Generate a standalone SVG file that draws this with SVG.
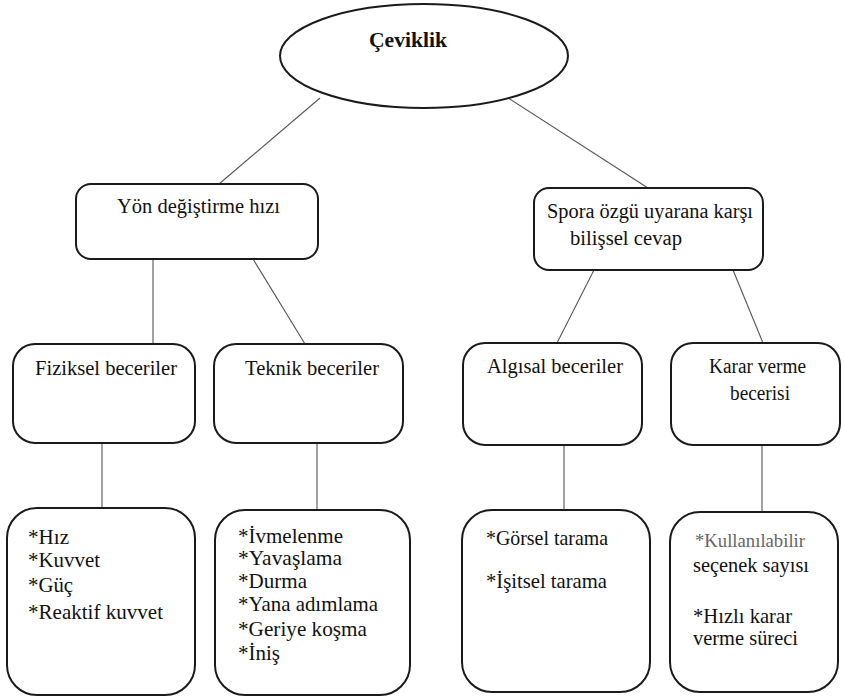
<svg xmlns="http://www.w3.org/2000/svg" width="844" height="698" viewBox="0 0 844 698">
<style>
.node{fill:#fff;stroke:#1a1a1a;stroke-width:2}
text{font-family:"Liberation Serif","DejaVu Serif","Noto Serif",serif}
.h{font-size:20.5px;fill:#111}
.t{font-size:21px;fill:#111}
.s{font-size:18px;fill:#666}
.b{font-size:21px;font-weight:bold;fill:#111}
#connectors line{stroke:#555;stroke-width:1.1}
</style>
<rect width="844" height="698" fill="#fff"/>
<g id="connectors">
<line x1="320" y1="98" x2="219" y2="184"/>
<line x1="505" y1="96" x2="648" y2="188"/>
<line x1="153" y1="259" x2="153" y2="344"/>
<line x1="253" y1="259" x2="305" y2="344"/>
<line x1="594" y1="270" x2="557" y2="343"/>
<line x1="733" y1="270" x2="763" y2="343"/>
<line x1="102" y1="443" x2="102" y2="508"/>
<line x1="317" y1="443" x2="317" y2="510"/>
<line x1="564" y1="445" x2="564" y2="510"/>
<line x1="762" y1="445" x2="762" y2="512"/>
</g>
<g id="ceviklik">
<ellipse class="node" cx="424" cy="56" rx="144" ry="52"/>
<text class="b" x="369" y="47" textLength="78" lengthAdjust="spacingAndGlyphs">Çeviklik</text>
</g>
<g id="yon">
<rect class="node" x="76" y="184" width="242" height="75" rx="15"/>
<text class="h" x="117" y="213" textLength="163" lengthAdjust="spacingAndGlyphs">Yön değiştirme hızı</text>
</g>
<g id="spora">
<rect class="node" x="534" y="188" width="229" height="82" rx="15"/>
<text class="h" x="547" y="218" textLength="206" lengthAdjust="spacingAndGlyphs">Spora özgü uyarana karşı</text>
<text class="h" x="570" y="245" textLength="112" lengthAdjust="spacingAndGlyphs">bilişsel cevap</text>
</g>
<g id="fiziksel">
<rect class="node" x="13" y="344" width="182" height="99" rx="22"/>
<text class="h" x="35" y="375" textLength="142" lengthAdjust="spacingAndGlyphs">Fiziksel beceriler</text>
</g>
<g id="teknik">
<rect class="node" x="214" y="344" width="189" height="99" rx="22"/>
<text class="h" x="245" y="375" textLength="134" lengthAdjust="spacingAndGlyphs">Teknik beceriler</text>
</g>
<g id="algisal">
<rect class="node" x="463" y="343" width="179" height="102" rx="22"/>
<text class="h" x="487" y="373" textLength="136" lengthAdjust="spacingAndGlyphs">Algısal beceriler</text>
</g>
<g id="karar">
<rect class="node" x="671" y="343" width="169" height="102" rx="22"/>
<text class="h" x="709" y="373" textLength="97" lengthAdjust="spacingAndGlyphs">Karar verme</text>
<text class="h" x="730" y="400" textLength="60" lengthAdjust="spacingAndGlyphs">becerisi</text>
</g>
<g id="fiziksel-items">
<rect class="node" x="7" y="508" width="188" height="187" rx="30"/>
<text class="t" x="28" y="544" textLength="41" lengthAdjust="spacingAndGlyphs">*Hız</text>
<text class="t" x="28" y="567" textLength="72" lengthAdjust="spacingAndGlyphs">*Kuvvet</text>
<text class="t" x="28" y="592" textLength="45" lengthAdjust="spacingAndGlyphs">*Güç</text>
<text class="t" x="28" y="619" textLength="135" lengthAdjust="spacingAndGlyphs">*Reaktif kuvvet</text>
</g>
<g id="teknik-items">
<rect class="node" x="215" y="510" width="195" height="185" rx="30"/>
<text class="t" x="238" y="543" textLength="105" lengthAdjust="spacingAndGlyphs">*İvmelenme</text>
<text class="t" x="238" y="565" textLength="104" lengthAdjust="spacingAndGlyphs">*Yavaşlama</text>
<text class="t" x="238" y="588" textLength="69" lengthAdjust="spacingAndGlyphs">*Durma</text>
<text class="t" x="238" y="611" textLength="140" lengthAdjust="spacingAndGlyphs">*Yana adımlama</text>
<text class="t" x="238" y="636" textLength="129" lengthAdjust="spacingAndGlyphs">*Geriye koşma</text>
<text class="t" x="238" y="660" textLength="42" lengthAdjust="spacingAndGlyphs">*İniş</text>
</g>
<g id="algisal-items">
<rect class="node" x="462" y="510" width="188" height="182" rx="30"/>
<text class="t" x="486" y="545" textLength="122" lengthAdjust="spacingAndGlyphs">*Görsel tarama</text>
<text class="t" x="486" y="588" textLength="121" lengthAdjust="spacingAndGlyphs">*İşitsel tarama</text>
</g>
<g id="karar-items">
<rect class="node" x="670" y="512" width="168" height="180" rx="30"/>
<text class="s" x="695" y="547" textLength="110" lengthAdjust="spacingAndGlyphs">*Kullanılabilir</text>
<text class="t" x="693" y="572" textLength="116" lengthAdjust="spacingAndGlyphs">seçenek sayısı</text>
<text class="t" x="693" y="623" textLength="99" lengthAdjust="spacingAndGlyphs">*Hızlı karar</text>
<text class="t" x="693" y="645" textLength="105" lengthAdjust="spacingAndGlyphs">verme süreci</text>
</g>
</svg>
